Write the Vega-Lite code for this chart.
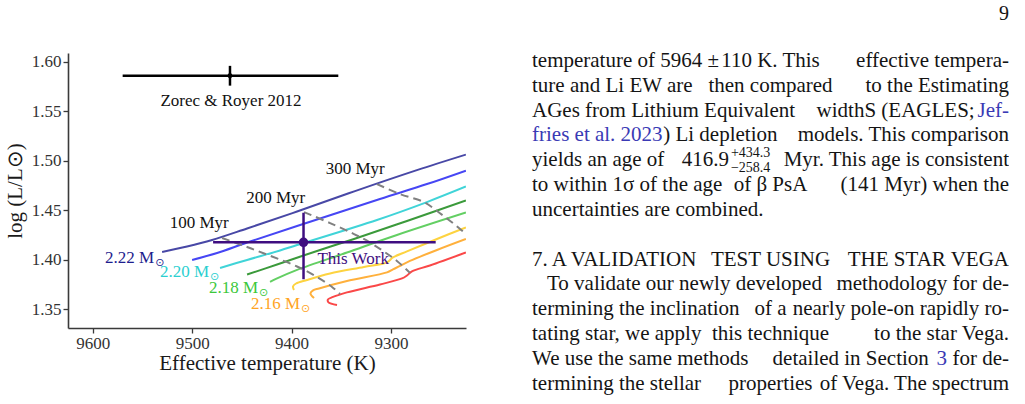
{
  "$schema": "https://vega.github.io/schema/vega-lite/v6.json",
  "padding": {"top": 4, "left": 4, "right": 0, "bottom": 0},
  "autosize": {"type": "pad"},
  "background": "white",
  "title": {"text": "9", "anchor": "end", "fontSize": 20, "font": "Liberation Serif", "fontWeight": "normal", "color": "#141414", "offset": 26},
  "config": {
    "font": "Liberation Serif",
    "view": {"stroke": null},
    "axis": {
      "grid": false,
      "domainColor": "#3a3a3a",
      "domainWidth": 1.6,
      "tickColor": "#3a3a3a",
      "tickWidth": 1.3,
      "tickSize": 5,
      "labelFont": "Liberation Serif",
      "labelFontSize": 17,
      "labelColor": "#333333",
      "labelPadding": 2,
      "titleFont": "Liberation Serif",
      "titleFontSize": 21,
      "titleFontWeight": "normal",
      "titleColor": "#1a1a1a"
    }
  },
  "datasets": {
    "tracks": [
      {"mass": "2.22", "teff": 9530.3, "logL": 1.4079},
      {"mass": "2.22", "teff": 9505.2, "logL": 1.4134},
      {"mass": "2.22", "teff": 9480.0, "logL": 1.4200},
      {"mass": "2.22", "teff": 9444.8, "logL": 1.4316},
      {"mass": "2.22", "teff": 9394.5, "logL": 1.4487},
      {"mass": "2.22", "teff": 9336.2, "logL": 1.4694},
      {"mass": "2.22", "teff": 9273.9, "logL": 1.4906},
      {"mass": "2.22", "teff": 9224.6, "logL": 1.5063},
      {"mass": "2.21", "teff": 9500.1, "logL": 1.3998},
      {"mass": "2.21", "teff": 9475.0, "logL": 1.4068},
      {"mass": "2.21", "teff": 9444.8, "logL": 1.4174},
      {"mass": "2.21", "teff": 9394.5, "logL": 1.4341},
      {"mass": "2.21", "teff": 9311.1, "logL": 1.4614},
      {"mass": "2.21", "teff": 9263.8, "logL": 1.4765},
      {"mass": "2.21", "teff": 9224.6, "logL": 1.4901},
      {"mass": "2.20", "teff": 9472.0, "logL": 1.3917},
      {"mass": "2.20", "teff": 9444.8, "logL": 1.3998},
      {"mass": "2.20", "teff": 9411.6, "logL": 1.4094},
      {"mass": "2.20", "teff": 9394.5, "logL": 1.4149},
      {"mass": "2.20", "teff": 9314.1, "logL": 1.4402},
      {"mass": "2.20", "teff": 9263.8, "logL": 1.4583},
      {"mass": "2.20", "teff": 9224.6, "logL": 1.4740},
      {"mass": "2.19", "teff": 9444.8, "logL": 1.3851},
      {"mass": "2.19", "teff": 9414.6, "logL": 1.3952},
      {"mass": "2.19", "teff": 9374.4, "logL": 1.4089},
      {"mass": "2.19", "teff": 9337.2, "logL": 1.4210},
      {"mass": "2.19", "teff": 9283.9, "logL": 1.4392},
      {"mass": "2.19", "teff": 9224.6, "logL": 1.4599},
      {"mass": "2.18", "teff": 9421.7, "logL": 1.3776},
      {"mass": "2.18", "teff": 9414.6, "logL": 1.3811},
      {"mass": "2.18", "teff": 9394.5, "logL": 1.3897},
      {"mass": "2.18", "teff": 9344.3, "logL": 1.4073},
      {"mass": "2.18", "teff": 9294.0, "logL": 1.4250},
      {"mass": "2.18", "teff": 9224.6, "logL": 1.4477},
      {"mass": "2.17", "teff": 9397.6, "logL": 1.3695},
      {"mass": "2.17", "teff": 9398.6, "logL": 1.3730},
      {"mass": "2.17", "teff": 9395.5, "logL": 1.3760},
      {"mass": "2.17", "teff": 9384.5, "logL": 1.3796},
      {"mass": "2.17", "teff": 9361.3, "logL": 1.3861},
      {"mass": "2.17", "teff": 9327.2, "logL": 1.3927},
      {"mass": "2.17", "teff": 9304.0, "logL": 1.3973},
      {"mass": "2.17", "teff": 9298.0, "logL": 1.4023},
      {"mass": "2.17", "teff": 9283.9, "logL": 1.4084},
      {"mass": "2.17", "teff": 9253.7, "logL": 1.4210},
      {"mass": "2.17", "teff": 9224.6, "logL": 1.4326},
      {"mass": "2.16", "teff": 9377.4, "logL": 1.3614},
      {"mass": "2.16", "teff": 9381.0, "logL": 1.3660},
      {"mass": "2.16", "teff": 9378.4, "logL": 1.3690},
      {"mass": "2.16", "teff": 9372.4, "logL": 1.3710},
      {"mass": "2.16", "teff": 9344.3, "logL": 1.3786},
      {"mass": "2.16", "teff": 9304.0, "logL": 1.3872},
      {"mass": "2.16", "teff": 9298.0, "logL": 1.3902},
      {"mass": "2.16", "teff": 9292.0, "logL": 1.3932},
      {"mass": "2.16", "teff": 9280.9, "logL": 1.3988},
      {"mass": "2.16", "teff": 9253.7, "logL": 1.4099},
      {"mass": "2.16", "teff": 9224.6, "logL": 1.4210},
      {"mass": "2.15", "teff": 9354.3, "logL": 1.3543},
      {"mass": "2.15", "teff": 9362.9, "logL": 1.3569},
      {"mass": "2.15", "teff": 9363.4, "logL": 1.3599},
      {"mass": "2.15", "teff": 9358.3, "logL": 1.3624},
      {"mass": "2.15", "teff": 9344.3, "logL": 1.3670},
      {"mass": "2.15", "teff": 9311.1, "logL": 1.3750},
      {"mass": "2.15", "teff": 9288.9, "logL": 1.3811},
      {"mass": "2.15", "teff": 9283.9, "logL": 1.3841},
      {"mass": "2.15", "teff": 9278.9, "logL": 1.3882},
      {"mass": "2.15", "teff": 9260.8, "logL": 1.3942},
      {"mass": "2.15", "teff": 9224.6, "logL": 1.4073}
    ],
    "isochrones": [
      {"age": "100 Myr", "teff": 9470.0, "logL": 1.4220},
      {"age": "100 Myr", "teff": 9444.8, "logL": 1.4129},
      {"age": "100 Myr", "teff": 9419.7, "logL": 1.4033},
      {"age": "100 Myr", "teff": 9394.5, "logL": 1.3932},
      {"age": "100 Myr", "teff": 9374.4, "logL": 1.3826},
      {"age": "100 Myr", "teff": 9359.3, "logL": 1.3725},
      {"age": "100 Myr", "teff": 9351.3, "logL": 1.3654},
      {"age": "200 Myr", "teff": 9387.5, "logL": 1.4482},
      {"age": "200 Myr", "teff": 9361.3, "logL": 1.4371},
      {"age": "200 Myr", "teff": 9337.2, "logL": 1.4260},
      {"age": "200 Myr", "teff": 9322.1, "logL": 1.4180},
      {"age": "200 Myr", "teff": 9308.0, "logL": 1.4089},
      {"age": "200 Myr", "teff": 9294.0, "logL": 1.3988},
      {"age": "200 Myr", "teff": 9280.9, "logL": 1.3867},
      {"age": "300 Myr", "teff": 9314.1, "logL": 1.4765},
      {"age": "300 Myr", "teff": 9290.9, "logL": 1.4664},
      {"age": "300 Myr", "teff": 9266.8, "logL": 1.4583},
      {"age": "300 Myr", "teff": 9253.7, "logL": 1.4493},
      {"age": "300 Myr", "teff": 9241.7, "logL": 1.4402},
      {"age": "300 Myr", "teff": 9231.6, "logL": 1.4321},
      {"age": "300 Myr", "teff": 9224.6, "logL": 1.4260}
    ],
    "ageLabels": [
      {"text": "100 Myr", "teff": 9493, "logL": 1.4371},
      {"text": "200 Myr", "teff": 9416, "logL": 1.4627},
      {"text": "300 Myr", "teff": 9336, "logL": 1.4914}
    ],
    "stars": [
      {"who": "Zorec & Royer 2012", "teff": 9462, "tlo": 9353, "thi": 9570, "logL": 1.586, "llo": 1.576, "lhi": 1.596},
      {"who": "This Work", "teff": 9388, "tlo": 9255, "thi": 9479, "logL": 1.4176, "llo": 1.3803, "lhi": 1.4475}
    ],
    "starLabels": [
      {"who": "Zorec & Royer 2012", "text": "Zorec & Royer 2012", "teff": 9461, "logL": 1.5608},
      {"who": "This Work", "text": "This Work", "teff": 9338, "logL": 1.4008}
    ],
    "massLabels": [
      {"mass": "2.22", "text": "2.22 M", "sub": "⊙", "teff": 9538.3, "logL": 1.4018},
      {"mass": "2.20", "text": "2.20 M", "sub": "⊙", "teff": 9483.0, "logL": 1.3877},
      {"mass": "2.18", "text": "2.18 M", "sub": "⊙", "teff": 9433.8, "logL": 1.3715},
      {"mass": "2.16", "text": "2.16 M", "sub": "⊙", "teff": 9391.5, "logL": 1.3557}
    ],
    "lines": [
      {"line": 1, "left": "temperature of 5964 ±", "mid": "110 K. This", "right": "effective tempera-"},
      {"line": 2, "left": "ture and Li EW are", "mid": "then compared", "right": "to the Estimating"},
      {"line": 3, "left": "AGes from Lithium Equivalent", "mid": "", "right": ""},
      {"line": 4, "left": "", "mid": "", "right": "models. This comparison"},
      {"line": 5, "left": "yields an age of", "mid": "", "right": "Myr. This age is consistent"},
      {"line": 6, "left": "to within 1σ of the age", "mid": "of β PsA", "right": "(141 Myr) when the"},
      {"line": 7, "left": "uncertainties are combined.", "mid": "", "right": ""},
      {"line": 9, "left": "7. A VALIDATION", "mid": "TEST USING", "right": "THE STAR VEGA"},
      {"line": 10, "left": "", "mid": "", "right": "methodology for de-"},
      {"line": 11, "left": "termining the inclination", "mid": "of a", "right": "nearly pole-on rapidly ro-"},
      {"line": 12, "left": "tating star, we apply", "mid": "this technique", "right": "to the star Vega."},
      {"line": 13, "left": "We use the same methods", "mid": "", "right": "for de-"},
      {"line": 14, "left": "termining the stellar", "mid": "properties", "right": "of Vega. The spectrum"}
    ],
    "linkLeft": [
      {"line": 4, "text": "fries et al. 2023"}
    ],
    "afterLink": [
      {"line": 4, "text": ") Li depletion"}
    ],
    "linkRight": [
      {"line": 3, "text": "Jef-"}
    ],
    "beforeLink": [
      {"line": 3, "text": "widthS (EAGLES;"}
    ],
    "sectionWord": [
      {"line": 13, "text": "detailed in Section"}
    ],
    "sectionNumber": [
      {"line": 13, "text": "3"}
    ],
    "ageValue": [
      {"line": 5, "text": "416.9", "sup": "+434.3", "sub": "−258.4"}
    ],
    "indented": [
      {"line": 10, "text": "To validate our newly developed"}
    ]
  },
  "spacing": 66,
  "hconcat": [
    {
      "width": 398,
      "height": 275,
      "encoding": {
        "x": {
          "field": "teff", "type": "quantitative",
          "scale": {"domain": [9224.5, 9625], "reverse": true, "nice": false, "zero": false},
          "axis": {"title": "Effective temperature (K)", "values": [9300, 9400, 9500, 9600], "format": "d", "titlePadding": 1}
        },
        "y": {
          "field": "logL", "type": "quantitative",
          "scale": {"domain": [1.331, 1.609], "nice": false, "zero": false},
          "axis": {"title": "log (L/L⊙)", "values": [1.35, 1.4, 1.45, 1.5, 1.55, 1.6], "format": ".2f", "titlePadding": 6}
        }
      },
      "layer": [
        {
          "data": {"name": "tracks"},
          "mark": {"type": "line", "strokeWidth": 2, "interpolate": "catmull-rom", "clip": true},
          "encoding": {
            "color": {
              "field": "mass", "type": "nominal",
              "scale": {
                "domain": ["2.22", "2.21", "2.20", "2.19", "2.18", "2.17", "2.16", "2.15"],
                "range": ["#4848a6", "#4646f4", "#40d4d8", "#3b9a3b", "#63cf63", "#fdd340", "#ffb03c", "#fa4848"]
              },
              "legend": null
            },
            "order": {"value": null}
          }
        },
        {
          "data": {"name": "isochrones"},
          "mark": {"type": "line", "strokeWidth": 2, "strokeDash": [8, 5], "color": "#808080", "interpolate": "catmull-rom", "clip": true},
          "encoding": {
            "detail": {"field": "age", "type": "nominal"},
            "order": {"value": null}
          }
        },
        {
          "data": {"name": "stars"},
          "mark": {"type": "rule", "strokeWidth": 2.5},
          "encoding": {
            "x": {"field": "tlo", "type": "quantitative"},
            "x2": {"field": "thi"},
            "color": {
              "field": "who", "type": "nominal",
              "scale": {"domain": ["Zorec & Royer 2012", "This Work"], "range": ["#000000", "#3f0e80"]},
              "legend": null
            }
          }
        },
        {
          "data": {"name": "stars"},
          "mark": {"type": "rule", "strokeWidth": 2.5},
          "encoding": {
            "y": {"field": "llo", "type": "quantitative"},
            "y2": {"field": "lhi"},
            "color": {
              "field": "who", "type": "nominal",
              "scale": {"domain": ["Zorec & Royer 2012", "This Work"], "range": ["#000000", "#3f0e80"]},
              "legend": null
            }
          }
        },
        {
          "data": {"name": "stars"},
          "mark": {"type": "circle", "opacity": 1},
          "encoding": {
            "size": {
              "field": "who", "type": "nominal",
              "scale": {"domain": ["Zorec & Royer 2012", "This Work"], "range": [24, 90]},
              "legend": null
            },
            "color": {
              "field": "who", "type": "nominal",
              "scale": {"domain": ["Zorec & Royer 2012", "This Work"], "range": ["#000000", "#3f0e80"]},
              "legend": null
            }
          }
        },
        {
          "data": {"name": "ageLabels"},
          "mark": {"type": "text", "fontSize": 17, "color": "#111111", "baseline": "middle"},
          "encoding": {"text": {"field": "text"}}
        },
        {
          "data": {"name": "starLabels"},
          "mark": {"type": "text", "fontSize": 17, "baseline": "middle"},
          "encoding": {
            "text": {"field": "text"},
            "color": {
              "field": "who", "type": "nominal",
              "scale": {"domain": ["Zorec & Royer 2012", "This Work"], "range": ["#111111", "#3f0e80"]},
              "legend": null
            }
          }
        },
        {
          "data": {"name": "massLabels"},
          "mark": {"type": "text", "fontSize": 17, "align": "right", "baseline": "middle"},
          "encoding": {
            "text": {"field": "text"},
            "color": {
              "field": "mass", "type": "nominal",
              "scale": {"domain": ["2.22", "2.20", "2.18", "2.16"], "range": ["#1e1e8e", "#2bcfd0", "#3cc83c", "#ffa424"]},
              "legend": null
            }
          }
        },
        {
          "data": {"name": "massLabels"},
          "mark": {"type": "text", "fontSize": 11, "align": "left", "baseline": "middle", "dx": 1, "dy": 5, "font": "DejaVu Sans"},
          "encoding": {
            "text": {"field": "sub"},
            "color": {
              "field": "mass", "type": "nominal",
              "scale": {"domain": ["2.22", "2.20", "2.18", "2.16"], "range": ["#1e1e8e", "#2bcfd0", "#3cc83c", "#ffa424"]},
              "legend": null
            }
          }
        }
      ],
      "resolve": {"scale": {"color": "independent", "size": "independent"}}
    },
    {
      "width": 477,
      "height": 343,
      "encoding": {
        "x": {"datum": 0, "type": "quantitative", "scale": {"domain": [0, 1], "nice": false, "zero": false}, "axis": null},
        "y": {"field": "line", "type": "quantitative", "scale": {"domain": [0.677, 14.5], "reverse": true, "nice": false, "zero": false}, "axis": null}
      },
      "layer": [
        {
          "data": {"name": "lines"},
          "mark": {"type": "text", "align": "left", "baseline": "middle", "fontSize": 21, "color": "#141414"},
          "encoding": {"text": {"field": "left"}}
        },
        {
          "data": {"name": "lines"},
          "mark": {"type": "text", "align": "center", "baseline": "middle", "fontSize": 21, "color": "#141414"},
          "encoding": {
            "x": {"datum": 0.5, "type": "quantitative"},
            "text": {"field": "mid"}
          }
        },
        {
          "data": {"name": "lines"},
          "mark": {"type": "text", "align": "right", "baseline": "middle", "fontSize": 21, "color": "#141414"},
          "encoding": {
            "x": {"datum": 1, "type": "quantitative"},
            "text": {"field": "right"}
          }
        },
        {
          "data": {"name": "linkLeft"},
          "mark": {"type": "text", "align": "left", "baseline": "middle", "fontSize": 21, "color": "#3a3ab5"},
          "encoding": {"text": {"field": "text"}}
        },
        {
          "data": {"name": "afterLink"},
          "mark": {"type": "text", "align": "left", "baseline": "middle", "fontSize": 21, "color": "#141414"},
          "encoding": {
            "x": {"datum": 0.275, "type": "quantitative"},
            "text": {"field": "text"}
          }
        },
        {
          "data": {"name": "linkRight"},
          "mark": {"type": "text", "align": "right", "baseline": "middle", "fontSize": 21, "color": "#3a3ab5"},
          "encoding": {
            "x": {"datum": 1, "type": "quantitative"},
            "text": {"field": "text"}
          }
        },
        {
          "data": {"name": "beforeLink"},
          "mark": {"type": "text", "align": "right", "baseline": "middle", "fontSize": 21, "color": "#141414"},
          "encoding": {
            "x": {"datum": 0.928, "type": "quantitative"},
            "text": {"field": "text"}
          }
        },
        {
          "data": {"name": "sectionWord"},
          "mark": {"type": "text", "align": "right", "baseline": "middle", "fontSize": 21, "color": "#141414"},
          "encoding": {
            "x": {"datum": 0.832, "type": "quantitative"},
            "text": {"field": "text"}
          }
        },
        {
          "data": {"name": "sectionNumber"},
          "mark": {"type": "text", "align": "right", "baseline": "middle", "fontSize": 21, "color": "#3a3ab5"},
          "encoding": {
            "x": {"datum": 0.870, "type": "quantitative"},
            "text": {"field": "text"}
          }
        },
        {
          "data": {"name": "ageValue"},
          "mark": {"type": "text", "align": "right", "baseline": "middle", "fontSize": 21, "color": "#141414"},
          "encoding": {
            "x": {"datum": 0.413, "type": "quantitative"},
            "text": {"field": "text"}
          }
        },
        {
          "data": {"name": "ageValue"},
          "mark": {"type": "text", "align": "left", "baseline": "middle", "fontSize": 14, "color": "#141414", "dy": -7},
          "encoding": {
            "x": {"datum": 0.417, "type": "quantitative"},
            "text": {"field": "sup"}
          }
        },
        {
          "data": {"name": "ageValue"},
          "mark": {"type": "text", "align": "left", "baseline": "middle", "fontSize": 14, "color": "#141414", "dy": 8},
          "encoding": {
            "x": {"datum": 0.417, "type": "quantitative"},
            "text": {"field": "sub"}
          }
        },
        {
          "data": {"name": "indented"},
          "mark": {"type": "text", "align": "left", "baseline": "middle", "fontSize": 21, "color": "#141414", "dx": 15},
          "encoding": {"text": {"field": "text"}}
        }
      ]
    }
  ]
}
